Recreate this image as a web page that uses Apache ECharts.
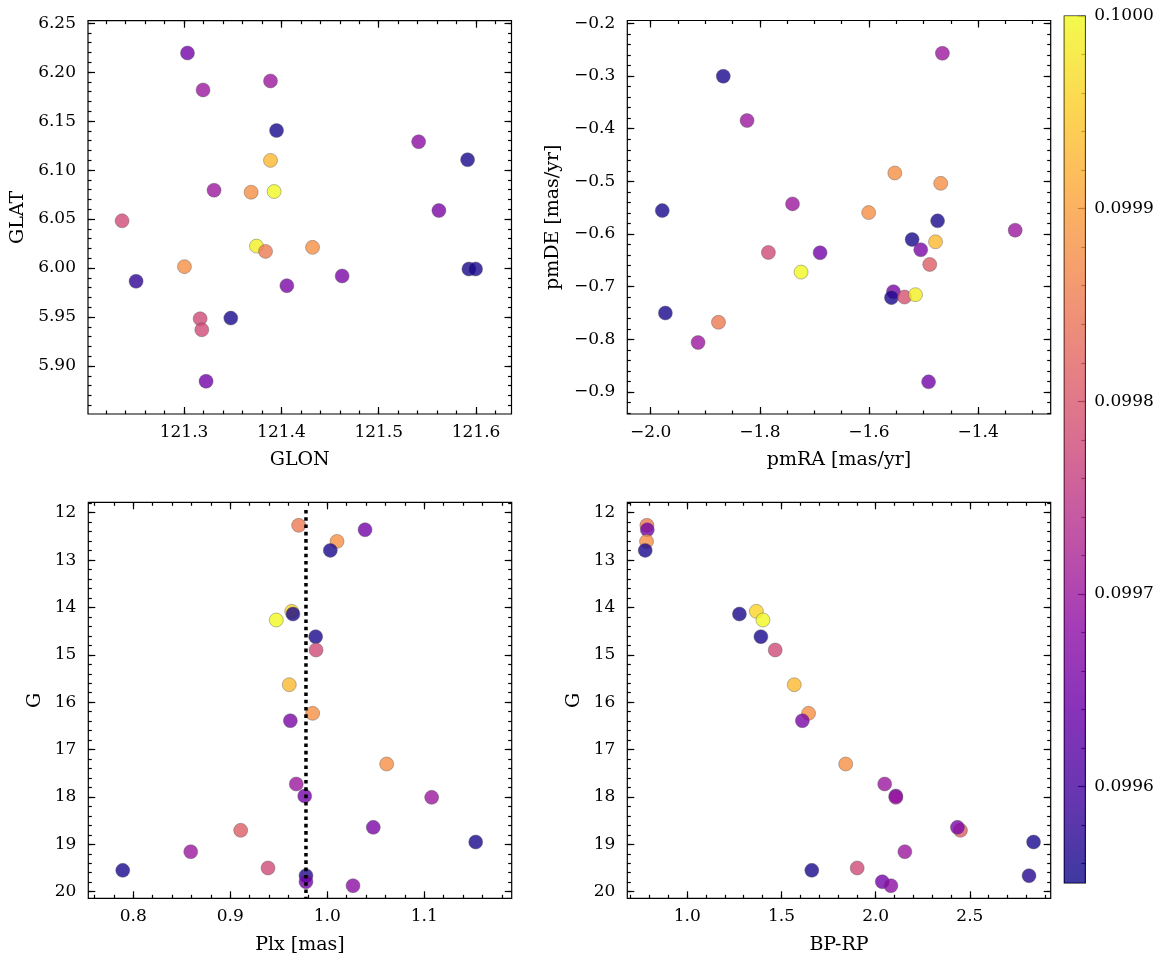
<!DOCTYPE html>
<html><head><meta charset="utf-8">
<script src="https://cdn.jsdelivr.net/npm/echarts@6/dist/echarts.min.js"></script>
<style>html,body{margin:0;padding:0;background:#fff}#c{width:1166px;height:965px}</style>
</head><body><div id="c"></div>
<script>
// ---- Data ----
const glon = [121.3035, 121.3888, 121.3195, 121.3950, 121.5410, 121.5913, 121.3888, 121.3308, 121.3689, 121.3925, 121.5618, 121.2363, 121.3744, 121.3837, 121.4320, 121.3004, 121.5926, 121.5995, 121.2507, 121.4624, 121.4056, 121.3165, 121.3480, 121.3182, 121.3226];
const glat = [6.2195, 6.1910, 6.1818, 6.1404, 6.1289, 6.1106, 6.1099, 6.0794, 6.0774, 6.0781, 6.0587, 6.0482, 6.0224, 6.0170, 6.0211, 6.0014, 5.9990, 5.9990, 5.9865, 5.9919, 5.9820, 5.9482, 5.9489, 5.9370, 5.8844];
const cPos = [0.09965, 0.09970, 0.09970, 0.09956, 0.09968, 0.09956, 0.09993, 0.09970, 0.09988, 0.10000, 0.09966, 0.09978, 0.09999, 0.09985, 0.09988, 0.09988, 0.09956, 0.09956, 0.09958, 0.09966, 0.09966, 0.09978, 0.09956, 0.09978, 0.09965];

const pmra = [-1.4654, -1.8670, -1.8234, -1.5526, -1.4685, -1.7401, -1.9788, -1.6005, -1.4742, -1.3320, -1.5209, -1.4780, -1.5051, -1.7843, -1.6896, -1.4886, -1.7244, -1.5551, -1.5588, -1.5348, -1.5147, -1.9731, -1.8758, -1.9132, -1.4907];
const pmde = [-0.2568, -0.3004, -0.3845, -0.4841, -0.5038, -0.5428, -0.5555, -0.5593, -0.5750, -0.5928, -0.6104, -0.6148, -0.6299, -0.6350, -0.6356, -0.6578, -0.6723, -0.7095, -0.7208, -0.7197, -0.7152, -0.7500, -0.7676, -0.8061, -0.8807];
const cPm = [0.09970, 0.09956, 0.09970, 0.09988, 0.09988, 0.09970, 0.09956, 0.09988, 0.09956, 0.09970, 0.09956, 0.09993, 0.09966, 0.09978, 0.09965, 0.09981, 0.10000, 0.09966, 0.09956, 0.09979, 0.09999, 0.09956, 0.09985, 0.09970, 0.09965];

const gmag = [12.266, 12.359, 12.605, 12.795, 14.082, 14.139, 14.265, 14.617, 14.898, 15.631, 16.235, 16.391, 17.305, 17.727, 17.980, 18.009, 18.705, 18.642, 18.952, 19.157, 19.550, 19.500, 19.663, 19.790, 19.874];
const plx = [0.9705, 1.0389, 1.0100, 1.0031, 0.9633, 0.9646, 0.9474, 0.9880, 0.9884, 0.9608, 0.9849, 0.9619, 1.0612, 0.9680, 0.9767, 1.1076, 0.9107, 1.0474, 1.1530, 0.8592, 0.7891, 0.9389, 0.9780, 0.9780, 1.0265];
const bprp = [0.786, 0.788, 0.784, 0.777, 1.367, 1.277, 1.402, 1.391, 1.467, 1.568, 1.644, 1.611, 1.841, 2.048, 2.107, 2.107, 2.450, 2.434, 2.838, 2.155, 1.661, 1.902, 2.814, 2.035, 2.081];
const cPhot = [0.09985, 0.09965, 0.09988, 0.09956, 0.09996, 0.09956, 0.10000, 0.09956, 0.09978, 0.09993, 0.09988, 0.09966, 0.09988, 0.09970, 0.09965, 0.09970, 0.09981, 0.09966, 0.09956, 0.09970, 0.09956, 0.09978, 0.09957, 0.09965, 0.09968];

const plxLine = 0.978;             // vertical dotted reference line
const plxLineG = [11.94, 20.14];   // its extent in G

// tick labels
const glonTicks = [121.3, 121.4, 121.5, 121.6];
const glatTicks = [5.90, 5.95, 6.00, 6.05, 6.10, 6.15, 6.20, 6.25];
const pmraTicks = [-2.0, -1.8, -1.6, -1.4];
const pmdeTicks = [-0.9, -0.8, -0.7, -0.6, -0.5, -0.4, -0.3, -0.2];
const plxTicks = [0.8, 0.9, 1.0, 1.1];
const gTicks = [12, 13, 14, 15, 16, 17, 18, 19, 20];
const bprpTicks = [1.0, 1.5, 2.0, 2.5];
const cbTicks = [0.0996, 0.0997, 0.0998, 0.0999, 0.1000];
const cbMin = 0.09955, cbMax = 0.1000;

const plasma = ['#0d0887','#41049d','#6a00a8','#8f0da4','#b12a90','#cc4778','#e16462','#f2844b','#fca636','#fcce25','#f0f921'];

// ---- helpers ----
const FONT = 'DejaVu Serif';
function steps(a, b, s) { const out = []; const n = Math.round((b - a) / s); for (let i = 0; i <= n; i++) out.push(+(a + i * s).toFixed(9)); return out; }
const fmt = d => v => (v < -1e-12 ? '\u2212' : '') + Math.abs(v).toFixed(d);
const zip3 = (a, b, c) => a.map((v, i) => [v, b[i], c[i]]);

const panels = [
  { grid: { left: 88, top: 20.7, width: 423.5, height: 393.3 },
    x: { min: 121.2013, max: 121.6364, major: glonTicks, minor: steps(121.22, 121.62, 0.02), dec: 1, name: 'GLON', gap: 37 },
    y: { min: 5.851, max: 6.2525, major: glatTicks, minor: steps(5.86, 6.25, 0.01), dec: 2, name: 'GLAT', gap: 60 },
    data: zip3(glon, glat, cPos) },
  { grid: { left: 627.3, top: 20.5, width: 423.4, height: 393.5 },
    x: { min: -2.0429, max: -1.2669, major: pmraTicks, minor: steps(-2.0, -1.3, 0.05), dec: 1, name: 'pmRA [mas/yr]', gap: 37 },
    y: { min: -0.9418, max: -0.1945, major: pmdeTicks, minor: steps(-0.94, -0.2, 0.02), dec: 1, name: 'pmDE [mas/yr]', gap: 65 },
    data: zip3(pmra, pmde, cPm) },
  { grid: { left: 88.3, top: 502.3, width: 423.4, height: 396 },
    x: { min: 0.7536, max: 1.1901, major: plxTicks, minor: steps(0.76, 1.18, 0.02), dec: 1, name: 'Plx [mas]', gap: 37 },
    y: { min: 11.78, max: 20.14, major: gTicks, minor: steps(11.8, 20.0, 0.2), dec: 0, name: 'G', gap: 44, inverse: true },
    data: zip3(plx, gmag, cPhot) },
  { grid: { left: 627.3, top: 502.3, width: 423.4, height: 396 },
    x: { min: 0.682, max: 2.929, major: bprpTicks, minor: steps(0.7, 2.9, 0.1), dec: 1, name: 'BP-RP', gap: 37 },
    y: { min: 11.78, max: 20.14, major: gTicks, minor: steps(11.8, 20.0, 0.2), dec: 0, name: 'G', gap: 44, inverse: true },
    data: zip3(bprp, gmag, cPhot) }
];

const tickStyle = { color: '#000', width: 1.2 };
function axesFor(dim, gi, ax) {
  const pos = dim === 'x' ? ['bottom', 'top'] : ['left', 'right'];
  const base = { type: 'value', gridIndex: gi, min: ax.min, max: ax.max, inverse: !!ax.inverse, scale: true,
    axisLine: { show: false, onZero: false }, splitLine: { show: false } };
  const out = [];
  pos.forEach((p, k) => {
    out.push(Object.assign({}, base, { position: p,
      axisTick: { show: true, inside: true, length: 7, lineStyle: tickStyle, customValues: ax.major },
      axisLabel: k === 0 ? { show: true, customValues: ax.major, formatter: fmt(ax.dec), margin: dim === 'x' ? 10 : 12,
        fontFamily: FONT, fontSize: 17, color: '#000' } : { show: false },
      name: k === 0 ? ax.name : '', nameLocation: 'middle', nameGap: ax.gap,
      nameTextStyle: { fontFamily: FONT, fontSize: 19, color: '#000' } }));
    out.push(Object.assign({}, base, { position: p,
      axisTick: { show: true, inside: true, length: 3.5, lineStyle: tickStyle, customValues: ax.minor },
      axisLabel: { show: false } }));
  });
  return out;
}

const grids = [], xAxes = [], yAxes = [], series = [];
panels.forEach((p, i) => {
  grids.push(Object.assign({ show: true, borderColor: '#000', borderWidth: 1.2, backgroundColor: 'transparent', containLabel: false }, p.grid));
  xAxes.push(...axesFor('x', i, p.x));
  yAxes.push(...axesFor('y', i, p.y));
  series.push({ type: 'scatter', xAxisIndex: 4 * i, yAxisIndex: 4 * i, data: p.data, symbolSize: 14,
    itemStyle: { opacity: 0.8, borderColor: '#555', borderWidth: 0.5 }, z: 2 });
});

// dotted reference line in the Plx panel
series.push({ type: 'line', xAxisIndex: 8, yAxisIndex: 8, data: plxLineG.map(g => [plxLine, g]), symbol: 'none',
  lineStyle: { color: '#000', width: 3.5, type: [3.6, 3.7], cap: 'butt' }, z: 5, silent: true });

// colorbar
const cbGi = panels.length;
grids.push({ show: true, left: 1064.3, top: 16, width: 21, height: 867, borderColor: '#000', borderWidth: 1.2, backgroundColor: 'transparent' });
xAxes.push({ type: 'value', gridIndex: cbGi, min: 0, max: 1, show: false });
yAxes.push({ type: 'value', gridIndex: cbGi, position: 'right', min: cbMin, max: cbMax, scale: true,
  axisLine: { show: false, onZero: false }, splitLine: { show: false },
  axisTick: { show: true, inside: true, length: 7.5, lineStyle: tickStyle, customValues: cbTicks },
  axisLabel: { show: true, customValues: cbTicks, formatter: fmt(4), margin: 9, fontFamily: FONT, fontSize: 17, color: '#000' } });
yAxes.push({ type: 'value', gridIndex: cbGi, position: 'right', min: cbMin, max: cbMax, scale: true,
  axisLine: { show: false, onZero: false }, splitLine: { show: false },
  axisTick: { show: true, inside: true, length: 4, lineStyle: tickStyle, customValues: steps(0.09956, 0.1, 0.00002) },
  axisLabel: { show: false } });
const cbStops = plasma.map((c, i) => {
  const r = parseInt(c.slice(1, 3), 16), g = parseInt(c.slice(3, 5), 16), b = parseInt(c.slice(5, 7), 16);
  return { offset: 1 - i / (plasma.length - 1), color: `rgba(${r},${g},${b},0.8)` };
}).reverse();
series.push({ type: 'custom', xAxisIndex: xAxes.length - 1, yAxisIndex: yAxes.length - 2, data: [[0, cbMin, cbMax]], silent: true, z: 1,
  renderItem: (params, api) => {
    const p0 = api.coord([0, api.value(2)]);
    const p1 = api.coord([1, api.value(1)]);
    return { type: 'rect', shape: { x: p0[0], y: p0[1], width: p1[0] - p0[0], height: p1[1] - p0[1] },
      style: { fill: new echarts.graphic.LinearGradient(0, 0, 0, 1, cbStops) } };
  } });

const chart = echarts.init(document.getElementById('c'), null, { renderer: 'canvas' });
chart.setOption({
  animation: false,
  backgroundColor: '#fff',
  grid: grids, xAxis: xAxes, yAxis: yAxes,
  visualMap: { show: false, type: 'continuous', min: cbMin, max: cbMax, dimension: 2, seriesIndex: [0, 1, 2, 3], inRange: { color: plasma } },
  series: series
});
</script></body></html>
